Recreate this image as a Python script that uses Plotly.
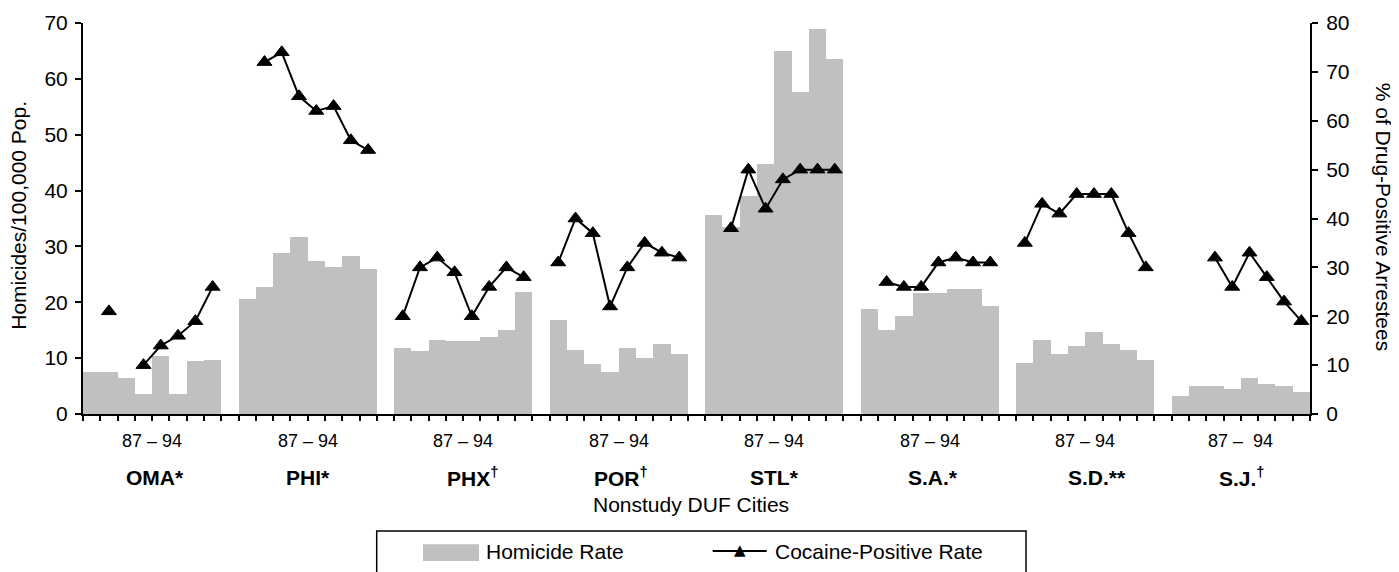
import plotly.graph_objects as go

# homicides per 100,000 population, 1987-1994, one list per city
cities = ["OMA*", "PHI*", "PHX<sup>†</sup>", "POR<sup>†</sup>", "STL*", "S.A.*", "S.D.**", "S.J.<sup>†</sup>"]
year_labels = ["87 – 94"] * 7 + ["87 –\u00a0 94"]

homicide_oma = [7.6, 7.6, 6.5, 3.6, 10.4, 3.6, 9.4, 9.7]
homicide_phi = [20.5, 22.8, 28.9, 31.7, 27.4, 26.4, 28.2, 26.0]
homicide_phx = [11.9, 11.2, 13.3, 13.0, 13.0, 13.7, 15.1, 21.8]
homicide_por = [16.9, 11.5, 9.0, 7.6, 11.9, 10.1, 12.6, 10.8]
homicide_stl = [35.7, 33.5, 39.0, 44.8, 65.0, 57.6, 69.0, 63.6]
homicide_sa = [18.8, 15.1, 17.6, 21.7, 21.7, 22.4, 22.4, 19.4]
homicide_sd = [9.1, 13.3, 10.8, 12.2, 14.7, 12.6, 11.5, 9.7]
homicide_sj = [3.3, 5.1, 5.1, 4.4, 6.5, 5.4, 5.1, 4.0]

# % of arrestees testing cocaine-positive (None = no DUF data that year)
cocaine_oma = [None, 21, None, 10, 14, 16, 19, 26]
cocaine_phi = [None, 72, 74, 65, 62, 63, 56, 54]
cocaine_phx = [20, 30, 32, 29, 20, 26, 30, 28]
cocaine_por = [31, 40, 37, 22, 30, 35, 33, 32]
cocaine_stl = [None, 38, 50, 42, 48, 50, 50, 50]
cocaine_sa = [None, 27, 26, 26, 31, 32, 31, 31]
cocaine_sd = [35, 43, 41, 45, 45, 45, 37, 30]
cocaine_sj = [None, None, 32, 26, 33, 28, 23, 19]

homicide = [homicide_oma, homicide_phi, homicide_phx, homicide_por,
            homicide_stl, homicide_sa, homicide_sd, homicide_sj]
cocaine = [cocaine_oma, cocaine_phi, cocaine_phx, cocaine_por,
           cocaine_stl, cocaine_sa, cocaine_sd, cocaine_sj]

# one empty slot between cities
x, hom, coc = [], [], []
for i, (h, c) in enumerate(zip(homicide, cocaine)):
    start = i * 9
    x += list(range(start, start + 8))
    hom += h
    coc += c
    if i < len(homicide) - 1:
        x.append(start + 8)
        hom.append(None)
        coc.append(None)

FONT = "Liberation Sans, Arial, sans-serif"
# the page body has an 8px margin, so the figure is a bit smaller than the window
OFF = 8
W, H = 1399 - OFF, 572 - OFF
PLOT_L, PLOT_R, PLOT_T, PLOT_B = 83, 1310, 23, 414.5  # plot area in page pixels
pw, ph = PLOT_R - PLOT_L, PLOT_B - PLOT_T
L, T = PLOT_L - OFF, PLOT_T - OFF
R, B = W - (PLOT_R - OFF), H - (PLOT_B - OFF)


def px(xp):
    return (xp - PLOT_L) / pw


def py(yp):
    return (PLOT_B - yp) / ph


fig = go.Figure()
fig.add_trace(go.Bar(x=x, y=hom, width=1, marker=dict(color="#C0C0C0", line=dict(width=0)),
                     name="Homicide Rate", showlegend=False))
fig.add_trace(go.Scatter(x=x, y=coc, yaxis="y2", mode="lines+markers", connectgaps=False,
                         line=dict(color="black", width=2),
                         marker=dict(symbol="triangle-up", size=13, color="black",
                                     line=dict(color="black", width=1)),
                         name="Cocaine-Positive Rate", showlegend=False))


def note(text, x, y, xref="paper", size=21, family=FONT, **kw):
    kw.setdefault("xanchor", "center")
    return dict(x=x, y=y, xref=xref, yref="paper", text=text, showarrow=False, yanchor="middle",
                font=dict(size=size, color="black", family=family), **kw)


annotations = []
city_shift = [3, 0, 9, 2, 0, 3, 12, 1]
for i, (city, yl) in enumerate(zip(cities, year_labels)):
    center = i * 9 + 3.5
    annotations.append(note(yl, center, py(441.7), xref="x", size=18))
    annotations.append(note("<b>" + city + "</b>", center, py(478), xref="x", xshift=city_shift[i]))

annotations += [
    note("Nonstudy DUF Cities", px(691), py(505)),
    note("Homicides/100,000 Pop.", px(19), py(216), textangle=-90),
    note("% of Drug-Positive Arrestees", px(1383), py(217), textangle=90),
    note("Homicide Rate", px(484), py(552), xanchor="left"),
    note("Cocaine-Positive Rate", px(773), py(552), xanchor="left"),
    note("▲", px(739.5), py(551), size=15, family="DejaVu Sans"),
]

shapes = [
    dict(type="rect", xref="paper", yref="paper", x0=px(376.7), x1=px(1026), y0=py(531.7), y1=py(585),
         line=dict(color="black", width=1.5), fillcolor="rgba(0,0,0,0)"),
    dict(type="rect", xref="paper", yref="paper", x0=px(423), x1=px(479), y0=py(545), y1=py(561.7),
         line=dict(width=0), fillcolor="#C0C0C0"),
    dict(type="line", xref="paper", yref="paper", x0=px(712.7), x1=px(766.7), y0=py(551.7), y1=py(551.7),
         line=dict(color="black", width=2)),
]

axis_common = dict(showline=True, linecolor="black", linewidth=2, showgrid=False, zeroline=False,
                   ticks="outside", tickcolor="black", tickwidth=1.5)

fig.update_layout(
    width=W, height=H,
    margin=dict(l=L, r=R, t=T, b=B, autoexpand=False),
    plot_bgcolor="white", paper_bgcolor="white",
    bargap=0,
    font=dict(family=FONT, color="black"),
    xaxis=dict(range=[-0.5, 70.5], tickvals=[v - 0.5 for v in range(72)], showticklabels=False,
               ticklen=5, **axis_common),
    yaxis=dict(range=[0, 70], dtick=10, ticklen=6, ticklabelstandoff=3,
               tickfont=dict(size=21), **axis_common),
    yaxis2=dict(range=[0, 80], dtick=10, overlaying="y", side="right", ticklen=6, ticklabelstandoff=4,
                tickfont=dict(size=21), **axis_common),
    annotations=annotations,
    shapes=shapes,
    showlegend=False,
)

fig.write_html("out.html")
